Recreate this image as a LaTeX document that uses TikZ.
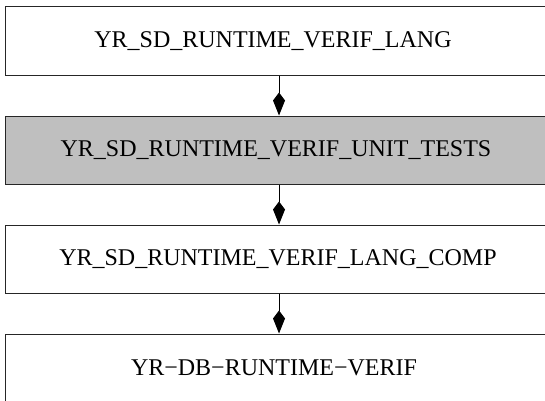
\documentclass[tikz,border=0pt]{standalone}
\usepackage{fontspec}
\setmainfont{Liberation Serif}
\usetikzlibrary{arrows.meta}
\begin{document}
\begin{tikzpicture}[x=1pt,y=1pt,
  box/.style={draw=black!85, line width=1pt, rectangle, minimum width=548pt, minimum height=68pt, inner sep=0pt, font=\fontsize{24}{28}\selectfont},
  conn/.style={draw=black, line width=1pt, -{Kite[length=23pt,width=12pt,inset=8pt]}}]
\useasboundingbox[clip] (0,0) rectangle (545,400);
\fill[white] (0,0) rectangle (545,400);
\node[box, fill=white] (a) at (279,359) {\hspace*{-12pt}YR\_SD\_RUNTIME\_VERIF\_LANG};
\node[box, fill=black!25] (b) at (279,250) {\hspace*{-6pt}YR\_SD\_RUNTIME\_VERIF\_UNIT\_TESTS};
\node[box, fill=white] (c) at (279,141) {\hspace*{-2pt}YR\_SD\_RUNTIME\_VERIF\_LANG\_COMP};
\node[box, fill=white] (d) at (279,32) {\hspace*{-10pt}YR−DB−RUNTIME−VERIF};
\draw[conn] (a.south) -- (b.north);
\draw[conn] (b.south) -- (c.north);
\draw[conn] (c.south) -- (d.north);
\end{tikzpicture}
\end{document}
